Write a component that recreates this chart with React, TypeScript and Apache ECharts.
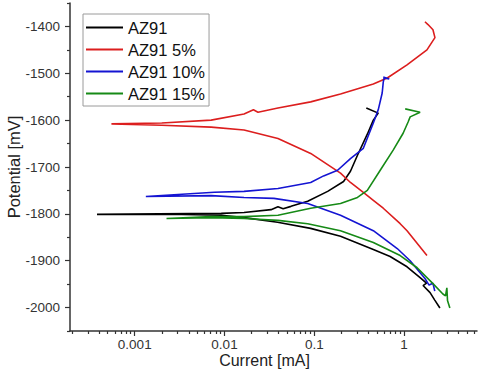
import React, { useEffect, useRef } from "react";
import * as echarts from "echarts";

const seriesNames = ["AZ91", "AZ91 5%", "AZ91 10%", "AZ91 15%"];
const seriesColors = ["#000000", "#dc1e1e", "#1414d2", "#168a16"];

const az91Current = [2.51, 2.2, 1.95, 1.63, 1.78, 1.51, 1.08, 0.7, 0.455, 0.196, 0.091, 0.039, 0.0165, 0.0092, 0.0033, 0.0015, 0.00038, 0.0092, 0.0165, 0.033, 0.0394, 0.045, 0.055, 0.0845, 0.141, 0.212, 0.253, 0.303, 0.39, 0.455, 0.516, 0.38];
const az91Potential = [-2001, -1984, -1968, -1953, -1948, -1936, -1913, -1891, -1876, -1848, -1831, -1818, -1808, -1803, -1801, -1801, -1801, -1799, -1797, -1791, -1785, -1789, -1784, -1773, -1752, -1731, -1709, -1675, -1630, -1600, -1585, -1574];

const az91p5Current = [1.8, 1.08, 0.906, 0.587, 0.455, 0.352, 0.253, 0.196, 0.0912, 0.0394, 0.0165, 0.0071, 0.002, 0.00055, 0.002, 0.0071, 0.0165, 0.021, 0.0236, 0.0394, 0.0912, 0.196, 0.455, 0.65, 1.08, 1.8, 2.21, 2.1, 1.85, 1.71];
const az91p5Potential = [-1889, -1836, -1821, -1788, -1771, -1754, -1733, -1713, -1671, -1639, -1621, -1615, -1611, -1608, -1606, -1600, -1587, -1578, -1583, -1574, -1561, -1544, -1523, -1510, -1482, -1450, -1424, -1407, -1396, -1390];

const az91p10Current = [2.2, 2.1, 1.9, 1.71, 1.17, 0.84, 0.455, 0.196, 0.0845, 0.0355, 0.0165, 0.0071, 0.00133, 0.0077, 0.0165, 0.0394, 0.0912, 0.127, 0.182, 0.253, 0.352, 0.455, 0.516, 0.571, 0.587, 0.6, 0.684, 0.587];
const az91p10Potential = [-1965, -1948, -1952, -1938, -1900, -1874, -1836, -1803, -1778, -1767, -1765, -1761, -1763, -1754, -1752, -1746, -1733, -1719, -1707, -1682, -1660, -1606, -1578, -1542, -1519, -1510, -1512, -1508];

const az91p15Current = [3.24, 3.05, 3.0, 2.9, 2.71, 2.1, 1.4, 0.906, 0.455, 0.196, 0.0845, 0.0394, 0.0165, 0.0071, 0.00226, 0.0071, 0.0165, 0.0394, 0.0912, 0.196, 0.303, 0.39, 0.543, 0.757, 0.977, 1.11, 1.17, 1.51, 1.03];
const az91p15Potential = [-2001, -1985, -1958, -1975, -1971, -1949, -1915, -1889, -1861, -1836, -1821, -1814, -1810, -1808, -1810, -1806, -1806, -1803, -1788, -1778, -1765, -1750, -1707, -1664, -1628, -1604, -1593, -1583, -1576];

const currentTicks = [0.001, 0.01, 0.1, 1];
const currentMinorTicks = [
  0.0002, 0.0003, 0.0004, 0.0005, 0.0006, 0.0007, 0.0008, 0.0009,
  0.002, 0.003, 0.004, 0.005, 0.006, 0.007, 0.008, 0.009,
  0.02, 0.03, 0.04, 0.05, 0.06, 0.07, 0.08, 0.09,
  0.2, 0.3, 0.4, 0.5, 0.6, 0.7, 0.8, 0.9,
  2, 3, 4, 5, 6,
];
const potentialTicks = [-2000, -1900, -1800, -1700, -1600, -1500, -1400];
const potentialMinorTicks = [-2050, -1950, -1850, -1750, -1650, -1550, -1450, -1350];

const currentMin = 0.00019;
const currentMax = 6.5;
const potentialMin = -2050;
const potentialMax = -1350;

const FONT = "'Liberation Sans', Arial, sans-serif";
const AXIS_COLOR = "#333333";

export default function App() {
  const ref = useRef<HTMLDivElement>(null);

  useEffect(() => {
    document.body.style.margin = "0";
    if (!ref.current) return;
    const chart = echarts.init(ref.current, null, { renderer: "svg" });
    const currents = [az91Current, az91p5Current, az91p10Current, az91p15Current];
    const potentials = [az91Potential, az91p5Potential, az91p10Potential, az91p15Potential];

    const fmtCurrent = (v: number) => String(Number(Number(v).toPrecision(6)));

    chart.setOption({
      animation: false,
      textStyle: { fontFamily: FONT },
      grid: { left: 70, right: 3, top: 3, bottom: 44, containLabel: false, outerBoundsMode: "none" },
      legend: {
        orient: "vertical",
        left: 83,
        top: 14,
        padding: [5, 4, 4, 2],
        itemWidth: 37,
        itemHeight: 14,
        itemGap: 5,
        borderColor: "#9a9a9a",
        borderWidth: 1,
        backgroundColor: "#ffffff",
        itemStyle: { opacity: 0, borderWidth: 0 },
        lineStyle: { width: 2 },
        textStyle: { fontFamily: FONT, fontSize: 16.5, color: "#111111" },
        data: seriesNames,
      },
      xAxis: [
        {
          type: "log",
          min: currentMin,
          max: currentMax,
          name: "Current [mA]",
          nameLocation: "middle",
          nameGap: 21,
          nameMoveOverlap: false,
          nameTextStyle: { fontFamily: FONT, fontSize: 16, color: "#222222", padding: [0, 18, 0, 0] },
          axisLine: { show: true, lineStyle: { color: AXIS_COLOR, width: 1.5 } },
          axisTick: { show: true, inside: false, length: 5, customValues: currentTicks, lineStyle: { color: AXIS_COLOR, width: 1.2 } },
          axisLabel: { show: true, margin: 6, customValues: currentTicks, formatter: fmtCurrent, fontFamily: FONT, fontSize: 13.5, color: "#333333" },
          splitLine: { show: false },
          minorTick: { show: false },
        },
        {
          type: "log",
          min: currentMin,
          max: currentMax,
          position: "bottom",
          axisLine: { show: false },
          axisTick: { show: true, inside: false, length: 3, customValues: currentMinorTicks, lineStyle: { color: AXIS_COLOR, width: 1.2 } },
          axisLabel: { show: false },
          splitLine: { show: false },
        },
      ],
      yAxis: [
        {
          type: "value",
          min: potentialMin,
          max: potentialMax,
          name: "Potential [mV]",
          nameLocation: "middle",
          nameGap: 48,
          nameMoveOverlap: false,
          nameTextStyle: { fontFamily: FONT, fontSize: 16.5, color: "#222222" },
          axisLine: { show: true, lineStyle: { color: AXIS_COLOR, width: 1.5 } },
          axisTick: { show: true, inside: false, length: 5, customValues: potentialTicks, lineStyle: { color: AXIS_COLOR, width: 1.2 } },
          axisLabel: { show: true, margin: 10, customValues: potentialTicks, formatter: (v: number) => String(v), fontFamily: FONT, fontSize: 13.5, color: "#333333" },
          splitLine: { show: false },
        },
        {
          type: "value",
          min: potentialMin,
          max: potentialMax,
          position: "left",
          axisLine: { show: false },
          axisTick: { show: true, inside: false, length: 3, customValues: potentialMinorTicks, lineStyle: { color: AXIS_COLOR, width: 1.2 } },
          axisLabel: { show: false },
          splitLine: { show: false },
        },
      ],
      series: seriesNames.map((name, i) => ({
        name,
        type: "line",
        xAxisIndex: 0,
        yAxisIndex: 0,
        symbol: "none",
        showSymbol: false,
        smooth: false,
        color: seriesColors[i],
        lineStyle: { color: seriesColors[i], width: 1.6 },
        data: currents[i].map((c, j) => [c, potentials[i][j]]),
      })),
    });

    return () => chart.dispose();
  }, []);

  return <div ref={ref} style={{ width: 480, height: 375, position: "absolute", left: 0, top: 0 }} />;
}
